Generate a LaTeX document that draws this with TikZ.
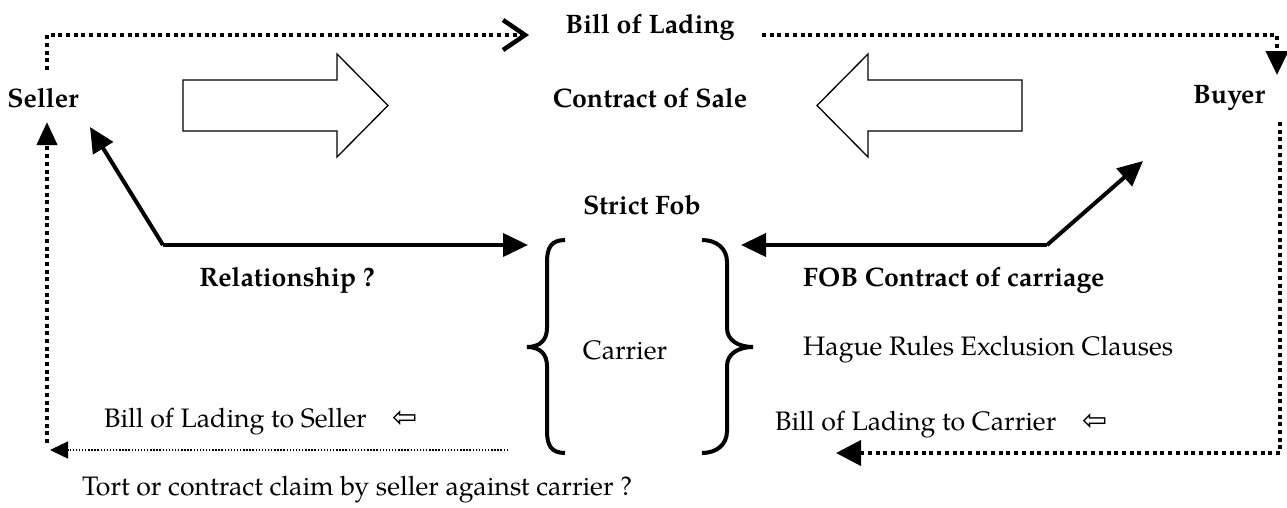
\documentclass[tikz,border=0pt]{standalone}
\usepackage{fontspec}
\setmainfont{texgyrepagella}[Extension=.otf, UprightFont=*-regular, BoldFont=*-bold]
\newfontfamily\symfont{DejaVu Sans}
\usetikzlibrary{arrows.meta}
\tikzset{
    lbl/.style={inner sep=0pt, font=\fontsize{26.7}{30}\selectfont},
    bold lbl/.style={lbl, font=\fontsize{26.7}{30}\selectfont\bfseries},
    bigdot/.style={line width=4pt, dash pattern=on 4pt off 3.7pt},
    finedot/.style={line width=1.4pt, dash pattern=on 1.4pt off 1.7pt},
    solidarr/.style={line width=4pt, -{Triangle[length=25pt,width=23pt]}},
    blockarr/.style={line width=1.3pt, line join=miter}
}
\newcommand{\backarrow}{{\symfont\fontsize{30}{30}\selectfont ⇦}}

\begin{document}
\begin{tikzpicture}[x=1pt, y=-1pt]
    \useasboundingbox (0,0) rectangle (1287,507);

    % Parties and main labels
    \node[bold lbl] (seller) at (43,98) {Seller};
    \node[bold lbl] (buyer) at (1229,98) {Buyer};
    \node[bold lbl] (sale) at (650,98) {Contract of Sale};
    \node[bold lbl] (lading) at (650,27) {Bill of Lading};
    \node[bold lbl] (fob) at (642,205) {Strict Fob};
    \node[bold lbl] (rel) at (287,280) {Relationship ?};
    \node[bold lbl, anchor=west] (fobcc) at (803,280) {FOB Contract of carriage};
    \node[lbl] (carrier) at (625,350) {Carrier};
    \node[lbl, anchor=west] (hague) at (803,350) {Hague Rules Exclusion Clauses};
    \node[lbl, anchor=west] (blseller) at (104,422) {Bill of Lading to Seller\hspace{26pt}\backarrow};
    \node[lbl, anchor=west] (blcarrier) at (775,425) {Bill of Lading to Carrier\hspace{26pt}\backarrow};
    \node[lbl, anchor=west] (tort) at (82,490) {Tort or contract claim by seller against carrier ?};

    % Block arrows towards the contract of sale
    \draw[blockarr] (183,80) -- (337,80) -- (337,54) -- (388,105.5)
        -- (337,157) -- (337,131) -- (183,131) -- cycle;
    \draw[blockarr] (1022,80) -- (868,80) -- (868,54) -- (817,105.5)
        -- (868,157) -- (868,131) -- (1022,131) -- cycle;

    % Braces round the carrier
    \draw[line width=4pt] (565,240) .. controls (551,240) and (547,248) .. (547,262)
        -- (547,328) .. controls (547,340) and (540,347) .. (527,347)
        .. controls (540,347) and (547,354) .. (547,366)
        -- (547,431) .. controls (547,445) and (551,453) .. (565,453);
    \draw[line width=4pt] (702,240) .. controls (716,240) and (727,248) .. (727,262)
        -- (727,328) .. controls (727,340) and (738,347) .. (753,347)
        .. controls (738,347) and (727,354) .. (727,366)
        -- (727,431) .. controls (727,445) and (716,453) .. (702,453);

    % Free ends of the connectors
    \coordinate (sellerup) at (47,70);
    \coordinate (ladingin) at (529,35);
    \coordinate (ladingout) at (762,35);
    \coordinate (buyerin) at (1277,75);
    \coordinate (buyerout) at (1280,122);
    \coordinate (carrierin) at (836,453);
    \coordinate (sellerbl) at (47,443);
    \coordinate (sellerin) at (47,122);
    \coordinate (braceout) at (508,450);
    \coordinate (sellerbot) at (50,450);
    \coordinate (relfoot) at (163,245);
    \coordinate (relseller) at (90,127);
    \coordinate (relcarrier) at (528,245);
    \coordinate (fobfoot) at (1047,245);
    \coordinate (fobbuyer) at (1143,161);
    \coordinate (fobcarrier) at (741,245);

    % Bill of lading route (dotted)
    \draw[bigdot, -{Straight Barb[length=22pt,width=30pt,line width=4.5pt]}] (sellerup) |- (ladingin);
    \draw[bigdot, -{Triangle[length=24pt,width=22pt]}] (ladingout) -| (buyerin);
    \draw[bigdot, -{Triangle[length=25pt,width=25pt]}] (buyerout) |- (carrierin);
    \draw[bigdot, -{Triangle[length=23pt,width=20pt]}] (sellerbl) -- (sellerin);
    \draw[finedot, -{Triangle[length=18pt,width=17pt]}] (braceout) -- (sellerbot);

    % Contract relationships
    \draw[solidarr] (relfoot) -- (relseller);
    \draw[solidarr] (relfoot) -- (relcarrier);
    \draw[solidarr] (fobfoot) -- (fobbuyer);
    \draw[solidarr] (fobfoot) -- (fobcarrier);

\end{tikzpicture}
\end{document}
